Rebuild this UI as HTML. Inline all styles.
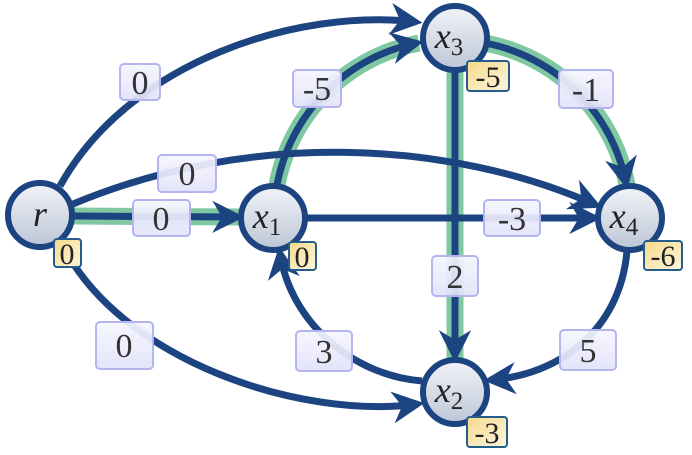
<!DOCTYPE html>
<html><head><meta charset="utf-8"><style>
html,body{margin:0;padding:0;background:#fff;}
svg{display:block;}
.n{font-family:"Liberation Serif",serif;font-size:36px;font-style:italic;fill:#222;}
.n tspan{font-style:normal;font-size:25px;}
.l{font-family:"Liberation Serif",serif;font-size:34px;fill:#333;}
.v{font-family:"Liberation Serif",serif;font-size:30px;fill:#222;}
</style></head><body>
<svg width="692" height="455" viewBox="0 0 692 455" xmlns="http://www.w3.org/2000/svg">
<defs>
<marker id="a" viewBox="0 0 10 10" refX="8" refY="5" markerWidth="4.6" markerHeight="4.6" orient="auto" markerUnits="strokeWidth">
<path d="M0,0 L10,5 L0,10 L3,5 z" fill="#1b4480"/></marker>
<linearGradient id="ng" x1="0" y1="0" x2="0" y2="1"><stop offset="0" stop-color="#f2f4f8"/><stop offset="1" stop-color="#bcc6d6"/></linearGradient>
<linearGradient id="lg" x1="0" y1="0" x2="0" y2="1"><stop offset="0" stop-color="#f6f6ff"/><stop offset="1" stop-color="#e2e2fa"/></linearGradient>
<linearGradient id="yg" x1="0" y1="0" x2="1" y2="1"><stop offset="0" stop-color="#f6d98a"/><stop offset="1" stop-color="#fdf6de"/></linearGradient>
</defs>
<g fill="none" stroke="#80c8a2" stroke-width="17" stroke-linecap="butt">
<path d="M72,216 L240,217"/>
<path d="M277,185 A178,178 0 0 1 419,43"/>
<path d="M485,43 A178,178 0 0 1 627,185"/>
<path d="M455,72 L455,358"/>
</g>
<g fill="none" stroke="#1b4480" stroke-width="7" marker-end="url(#a)">
<path d="M72,216 L238,217"/>
<path d="M277,185 A178,178 0 0 1 417,43"/>
<path d="M485,43 A178,178 0 0 1 626,183"/>
<path d="M455,72 L455,356"/>
<path d="M306,218 L595,218"/>
<path d="M60,186 C130,60 300,8 416,22"/>
<path d="M73,204 C250,130 450,140 596,205"/>
<path d="M62,244 C120,360 300,420 418,404"/>
<path d="M627,251 C620,330 560,375 490,380"/>
<path d="M422,381 C350,375 290,320 280,253"/>
</g>
<g stroke="#1b4480" stroke-width="6" fill="url(#ng)">
<circle cx="40" cy="215" r="32"/>
<circle cx="273" cy="218" r="32"/>
<circle cx="455" cy="38" r="32"/>
<circle cx="630" cy="218" r="32"/>
<circle cx="455" cy="392" r="32"/>
</g>
<text class="n" x="40" y="226" text-anchor="middle">r</text>
<text class="n" x="267" y="228" text-anchor="middle">x<tspan dy="7">1</tspan></text>
<text class="n" x="449" y="48" text-anchor="middle">x<tspan dy="7">3</tspan></text>
<text class="n" x="624" y="228" text-anchor="middle">x<tspan dy="7">4</tspan></text>
<text class="n" x="449" y="402" text-anchor="middle">x<tspan dy="7">2</tspan></text>
<g stroke="#b4b4f0" stroke-width="2" fill="url(#lg)" fill-opacity="0.92">
<rect x="120" y="64" width="40" height="36" rx="4"/>
<rect x="133" y="200" width="57" height="36" rx="4"/>
<rect x="158" y="155" width="58" height="37" rx="4"/>
<rect x="96" y="322" width="57" height="47" rx="4"/>
<rect x="293" y="70" width="48" height="37" rx="4"/>
<rect x="559" y="70" width="54" height="38" rx="4"/>
<rect x="484" y="200" width="56" height="36" rx="4"/>
<rect x="432" y="256" width="46" height="40" rx="4"/>
<rect x="296" y="331" width="56" height="40" rx="4"/>
<rect x="560" y="330" width="56" height="40" rx="4"/>
</g>
<text class="l" text-anchor="middle" x="140" y="94">0</text>
<text class="l" text-anchor="middle" x="161" y="230">0</text>
<text class="l" text-anchor="middle" x="187" y="185">0</text>
<text class="l" text-anchor="middle" x="124" y="357">0</text>
<text class="l" text-anchor="middle" x="317" y="100">-5</text>
<text class="l" text-anchor="middle" x="586" y="101">-1</text>
<text class="l" text-anchor="middle" x="512" y="230">-3</text>
<text class="l" text-anchor="middle" x="455" y="288">2</text>
<text class="l" text-anchor="middle" x="324" y="363">3</text>
<text class="l" text-anchor="middle" x="588" y="362">5</text>
<g stroke="#245c8c" stroke-width="2" fill="url(#yg)">
<rect x="54" y="239" width="27" height="28" rx="3"/>
<rect x="289" y="242" width="27" height="28" rx="3"/>
<rect x="467" y="61" width="42" height="30" rx="3"/>
<rect x="644" y="241" width="38" height="29" rx="3"/>
<rect x="467" y="417" width="40" height="30" rx="3"/>
</g>
<text class="v" text-anchor="middle" x="67" y="264">0</text>
<text class="v" text-anchor="middle" x="302" y="267">0</text>
<text class="v" text-anchor="middle" x="488" y="87">-5</text>
<text class="v" text-anchor="middle" x="663" y="266">-6</text>
<text class="v" text-anchor="middle" x="487" y="443">-3</text>
</svg>
</body></html>
